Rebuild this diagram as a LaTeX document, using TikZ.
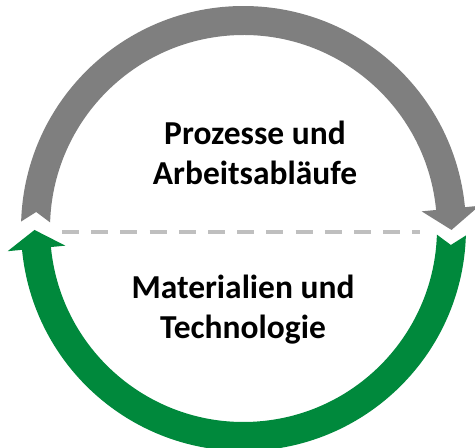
\documentclass[tikz,border=0pt]{standalone}
\usepackage{fontspec}
\setmainfont{Carlito}
\definecolor{arrowgray}{HTML}{7F7F7F}
\definecolor{arrowgreen}{HTML}{00893C}
\definecolor{dashgray}{HTML}{BFBFBF}
\tikzset{
  lbl/.style={font=\bfseries\fontsize{33.6}{40}\selectfont, align=center, inner sep=0pt, text=black},
  divider/.style={draw=dashgray, line width=4bp, dash pattern=on 17bp off 12.2bp}
}
\begin{document}
\begin{tikzpicture}
\useasboundingbox (0,0) rectangle (475bp,448bp);
\begin{scope}[shift={(243.5bp,219.5bp)}]
  % gray arrow (top), clockwise from left tail to right head
  \fill[arrowgray] (178.2:222.5bp) arc[start angle=178.2, end angle=5.5, radius=222.5bp]
    -- (5.5:237bp) -- (-0.4:208bp) -- (5.5:179bp) -- (5.5:193.5bp)
    arc[start angle=5.5, end angle=178.2, radius=193.5bp]
    -- (175.45:208bp) -- cycle;
  % green arrow (bottom), clockwise from right tail to left head
  \fill[arrowgreen] (-1.8:222.5bp) arc[start angle=-1.8, end angle=-174.5, radius=222.5bp]
    -- (-174.5:237bp) -- (-179.6:209bp) -- (-174.5:179bp) -- (-174.5:193.5bp)
    arc[start angle=-174.5, end angle=-1.8, radius=193.5bp]
    -- (-4.55:208bp) -- cycle;
\end{scope}
\coordinate (dl) at (62bp,216bp);
\coordinate (dr) at (420bp,216bp);
\draw[divider] (dl) -- (dr);
\node[lbl] (top) at (255bp,295bp) {Prozesse und\\Arbeitsabläufe};
\node[lbl] (bottom) at (243bp,138.5bp) {Materialien und\\Technologie};
\end{tikzpicture}
\end{document}
